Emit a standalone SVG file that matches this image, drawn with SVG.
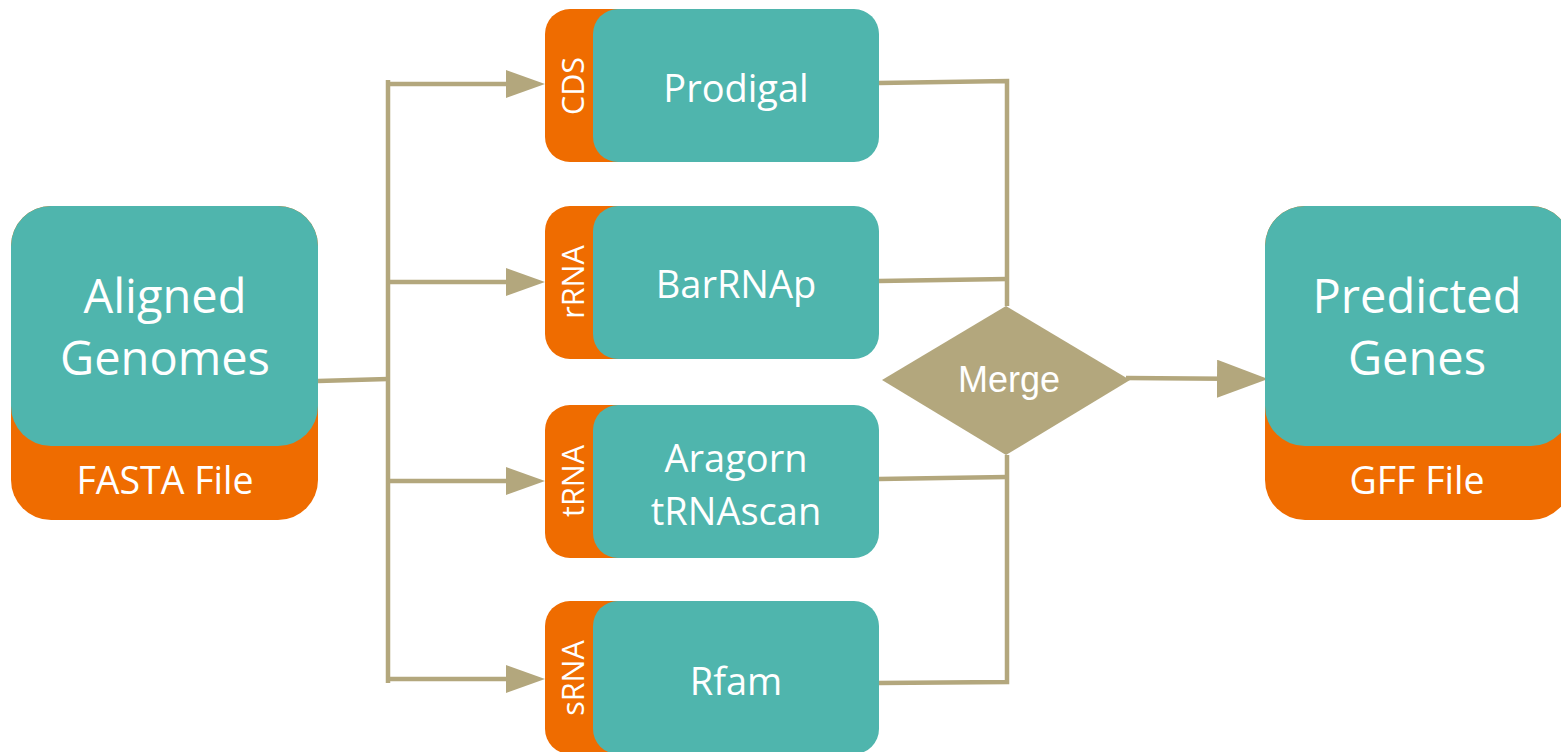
<svg xmlns="http://www.w3.org/2000/svg" width="1561" height="752" viewBox="0 0 1561 752">
<style>
.teal{fill:#4FB5AD}
.orange{fill:#EF6C00}
.txt{font-family:"Open Sans","Liberation Sans",sans-serif;fill:#FFFFFF;text-anchor:middle}
.big{font-size:47px}
.mid{font-size:38px}
.file{font-size:37.5px}
.side{font-size:30.5px}
.conn{fill:none;stroke:#B3A77D;stroke-width:4.5}
.merge{font-family:"Liberation Sans",Arial,sans-serif;font-size:36px;fill:#FFFFFF;text-anchor:middle}
</style>
<defs>
<marker id="arrS" markerUnits="userSpaceOnUse" viewBox="0 0 39 28" refX="29" refY="14" markerWidth="39" markerHeight="28" orient="auto">
<path d="M0,0 L39,14 L0,28 Z" fill="#B3A77D"/>
</marker>
<marker id="arrL" markerUnits="userSpaceOnUse" viewBox="0 0 51 38" refX="41" refY="19" markerWidth="51" markerHeight="38" orient="auto">
<path d="M0,0 L51,19 L0,38 Z" fill="#B3A77D"/>
</marker>
</defs>

<g id="connectors">
<path class="conn" d="M318,381 L388,379"/>
<path class="conn" d="M388,80 V683"/>
<path class="conn" d="M386,84 H535" marker-end="url(#arrS)"/>
<path class="conn" d="M386,282 H535" marker-end="url(#arrS)"/>
<path class="conn" d="M386,481 H535" marker-end="url(#arrS)"/>
<path class="conn" d="M386,679 H535" marker-end="url(#arrS)"/>
<path class="conn" d="M879,83 L1007,81 V306"/>
<path class="conn" d="M879,281 L1007,279"/>
<path class="conn" d="M879,479 L1007,477"/>
<path class="conn" d="M879,683 L1007,682 V455"/>
<path class="conn" d="M1126,378 L1258,379" marker-end="url(#arrL)"/>
</g>

<g id="aligned-genomes">
<rect class="orange" x="11" y="206" width="307" height="314" rx="40"/>
<rect class="teal" x="11" y="206" width="307" height="240" rx="40"/>
<text class="txt big" x="165" y="313">Aligned</text>
<text class="txt big" x="165" y="375">Genomes</text>
<text class="txt file" x="165" y="494">FASTA File</text>
</g>

<g id="prodigal">
<rect class="orange" x="545" y="9" width="120" height="153" rx="25"/>
<rect class="teal" x="593" y="9" width="286" height="153" rx="25"/>
<text class="txt side" transform="translate(584,86) rotate(-90)">CDS</text>
<text class="txt mid" x="736" y="102">Prodigal</text>
</g>

<g id="barrnap">
<rect class="orange" x="545" y="206" width="120" height="153" rx="25"/>
<rect class="teal" x="593" y="206" width="286" height="153" rx="25"/>
<text class="txt side" transform="translate(584,282) rotate(-90)">rRNA</text>
<text class="txt mid" x="736" y="298">BarRNAp</text>
</g>

<g id="aragorn">
<rect class="orange" x="545" y="405" width="120" height="153" rx="25"/>
<rect class="teal" x="593" y="405" width="286" height="153" rx="25"/>
<text class="txt side" transform="translate(584,481) rotate(-90)">tRNA</text>
<text class="txt mid" x="736" y="472">Aragorn</text>
<text class="txt mid" x="736" y="525">tRNAscan</text>
</g>

<g id="rfam">
<rect class="orange" x="545" y="601" width="120" height="153" rx="25"/>
<rect class="teal" x="593" y="601" width="286" height="153" rx="25"/>
<text class="txt side" transform="translate(584,678) rotate(-90)">sRNA</text>
<text class="txt mid" x="736" y="695">Rfam</text>
</g>

<g id="merge">
<polygon points="1006,306 1130,380 1006,455 882,380" fill="#B3A77D"/>
<text class="merge" x="1009" y="392">Merge</text>
</g>

<g id="predicted-genes">
<rect class="orange" x="1265" y="206" width="306" height="314" rx="40"/>
<rect class="teal" x="1265" y="206" width="306" height="240" rx="40"/>
<text class="txt big" x="1417" y="313">Predicted</text>
<text class="txt big" x="1417" y="375">Genes</text>
<text class="txt file" x="1417" y="494">GFF File</text>
</g>
</svg>
